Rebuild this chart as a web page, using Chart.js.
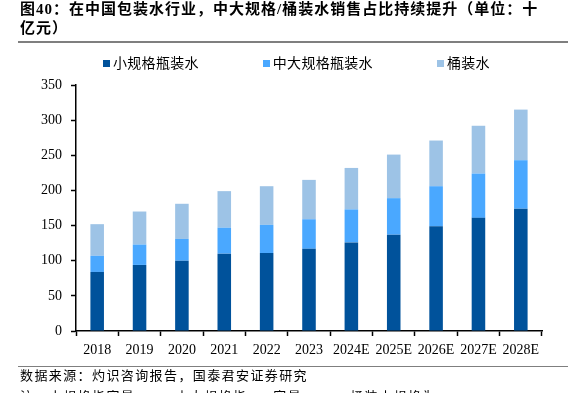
<!DOCTYPE html>
<html>
<head>
<meta charset="utf-8">
<script src="https://cdn.jsdelivr.net/npm/chart.js@4"></script>
<style>
  html, body { margin: 0; padding: 0; background: #fff; }
  body { width: 580px; height: 393px; position: relative; overflow: hidden; font-family: "Liberation Serif", "Noto Sans CJK SC", serif; color: #000; }
  #chart { position: absolute; left: 0; top: 0; }
  .title { position: absolute; left: 20px; top: 0; font-size: 15px; font-weight: bold; line-height: 19px; letter-spacing: 1px; white-space: nowrap; }
  .rule { position: absolute; left: 18px; width: 550px; height: 0; border-top: 2px solid #7f7f7f; }
  #legend { position: absolute; left: 103px; top: 55px; display: flex; align-items: center; font-size: 14px; line-height: 17px; letter-spacing: 0.3px; }
  #legend .item { display: flex; align-items: center; margin-right: 64px; }
  #legend .box { width: 7px; height: 7px; margin-right: 3px; }
  .note { position: absolute; left: 20px; font-size: 13px; line-height: 16px; letter-spacing: 1.4px; white-space: nowrap; }
</style>
</head>
<body>
<canvas id="chart" width="580" height="393"></canvas>
<div class="title">图40：在中国包装水行业，中大规格/桶装水销售占比持续提升（单位：十<br>亿元）</div>
<div class="rule" style="top:41px"></div>
<div id="legend"></div>
<div class="rule" style="top:366px; height:0; border-top-width:1.5px"></div>
<div class="note" style="top:368px">数据来源：灼识咨询报告，国泰君安证券研究</div>
<div class="note" style="top:389px">注：小规格指容量≤1L，中大规格指1L&lt;容量≤15L，桶装水规格为18.9L</div>
<script>
const categories = ['2018', '2019', '2020', '2021', '2022', '2023', '2024E', '2025E', '2026E', '2027E', '2028E'];
const smallBottled = [84, 94, 100, 110, 111, 117, 126, 137, 149, 161, 174];
const midLargeBottled = [23, 29, 31, 37, 40, 42, 47, 52, 57, 63, 69];
const barrelled = [45, 47, 50, 52, 55, 56, 59, 62, 65, 68, 72];
const seriesNames = ['小规格瓶装水', '中大规格瓶装水', '桶装水'];
const yTicks = [0, 50, 100, 150, 200, 250, 300, 350];

const COLORS = ['#00529B', '#4AA8FF', '#9DC3E6'];
const TICK_FONT = { family: '"Liberation Serif", "Times New Roman", serif', size: 14 };

const ctx = document.getElementById('chart');

const chart = new Chart(ctx, {
  type: 'bar',
  data: {
    labels: categories,
    datasets: [smallBottled, midLargeBottled, barrelled].map((values, i) => ({
      label: seriesNames[i],
      data: values,
      backgroundColor: COLORS[i],
      borderWidth: 0,
      barPercentage: 0.32,
      categoryPercentage: 1,
    })),
  },
  options: {
    responsive: false,
    animation: false,
    layout: {
      padding: { left: 0, top: 85, right: 38, bottom: 33 },
    },
    plugins: {
      legend: { display: false },
      tooltip: { enabled: false },
    },
    scales: {
      x: {
        stacked: true,
        grid: {
          offset: true,
          drawOnChartArea: false,
          drawTicks: true,
          tickLength: 5,
          tickColor: '#000',
          tickWidth: 1.5,
        },
        border: { display: true, color: '#000', width: 1.5 },
        ticks: { color: '#000', font: TICK_FONT, padding: 6, maxRotation: 0, autoSkip: false },
        afterFit: (scale) => { scale.height = 29; },
      },
      y: {
        stacked: true,
        min: 0,
        max: 350,
        afterBuildTicks: (scale) => { scale.ticks = yTicks.map((v) => ({ value: v })); },
        grid: {
          drawOnChartArea: false,
          drawTicks: true,
          tickLength: 5,
          tickColor: '#000',
          tickWidth: 1.5,
        },
        border: { display: true, color: '#000', width: 1.5 },
        ticks: { color: '#000', font: TICK_FONT, padding: 9 },
        afterFit: (scale) => { scale.width = 76; },
      },
    },
  },
});

// legend rendered as html from the chart's datasets
const legendEl = document.getElementById('legend');
chart.data.datasets.forEach((ds) => {
  const item = document.createElement('div');
  item.className = 'item';
  const box = document.createElement('span');
  box.className = 'box';
  box.style.background = ds.backgroundColor;
  const text = document.createElement('span');
  text.textContent = ds.label;
  item.appendChild(box);
  item.appendChild(text);
  legendEl.appendChild(item);
});
</script>
</body>
</html>
